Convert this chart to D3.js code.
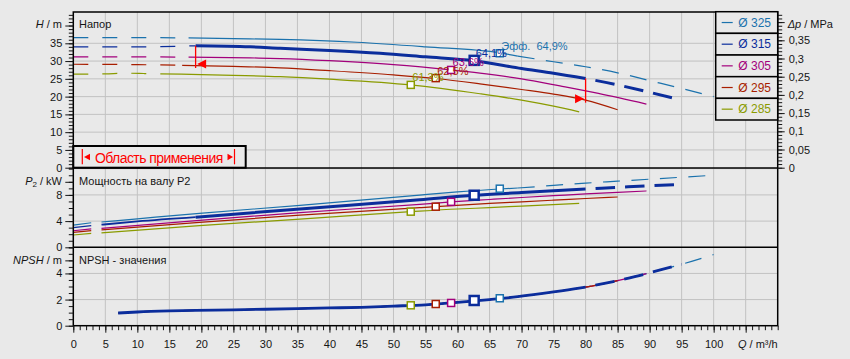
<!DOCTYPE html>
<html><head><meta charset="utf-8">
<script src="https://cdn.jsdelivr.net/npm/d3@7"></script>
<style>
html,body{margin:0;padding:0;background:#e9e9e9;}
svg{display:block;}
text{font-family:"Liberation Sans",Arial,sans-serif;}
</style>
</head><body>
<svg id="c" width="850" height="359"></svg>
<script>
// ---------- data ----------
const diameters = ["Ø 325","Ø 315","Ø 305","Ø 295","Ø 285"];
const colors = ["#1b72ad","#0b2d9c","#a3007c","#a81e00","#8a9b00"];

// Head curves H(Q)
const qH325 = [0,10,18,25,32.3,44.3,55,66.6,69.4,75,80,85,90,95,100];
const hH325 = [36.6,36.6,36.5,36.3,36.1,35.3,34.0,32.3,31.4,29.8,28.4,26.7,24.5,22.3,20.0];
const qH315 = [0,10,19.1,27.6,32.3,40,47.9,55,62.6,70,75,80,85,90,95];
const hH315 = [34.0,34.0,34.3,34.0,33.6,33.0,32.2,31.2,30.1,27.9,26.6,25.1,23.3,21.2,19.0];
const qH305 = [0,10,18,27.6,32.3,40,50,59,63.5,70,76,82,89.5];
const hH305 = [31.2,31.2,31.1,30.9,30.7,30.1,29.0,27.5,26.6,25.0,23.0,20.9,17.9];
const qH295 = [0,10,17,25,32.3,40,50,56.6,63.5,70,75,80,85];
const hH295 = [29.1,29.0,28.8,28.5,28.1,27.3,26.1,25.1,23.6,22.0,20.7,19.0,16.3];
const qH285 = [0,5,8,11,13.6,20,25,32.3,40,52.7,63.5,70,75,79];
const hH285 = [26.3,26.4,26.6,26.5,26.4,26.2,26.0,25.6,24.9,23.3,20.8,19.0,17.3,15.7];

// Shaft power P2(Q)
const qP325 = [0,2.8,4.4,10,19.7,35.4,54.1,60,66.6,69.4,75,80,85,90,95,100];
const pP325 = [3.4,3.75,3.86,4.35,5.19,6.4,7.98,8.45,8.9,9.05,9.45,9.8,10.1,10.4,10.7,11.0];
const qP315 = [0,2.8,4.4,10,19.1,35.4,54.1,62.6,70,80,85,90,95];
const pP315 = [2.99,3.3,3.45,3.95,4.6,5.85,7.25,7.95,8.35,8.9,9.15,9.4,9.6];
const qP305 = [0,2.8,4.4,19.7,35.4,54.1,59,65,70,75,80,85,89.5];
const pP305 = [2.53,2.8,2.9,4.12,5.3,6.56,6.93,7.3,7.6,7.88,8.15,8.4,8.6];
const qP295 = [0,2.8,4.4,19.7,35.4,54.1,56.6,65,70,75,80,85];
const pP295 = [2.29,2.55,2.65,3.82,4.9,6.05,6.2,6.7,6.95,7.2,7.45,7.68];
const qP285 = [0,2.8,4.4,19.7,35.4,52.7,60,65,70,79];
const pP285 = [1.88,2.12,2.2,3.3,4.3,5.44,5.85,6.05,6.3,6.72];

// NPSH(Q), common to all impellers
const qN = [7,10,15,19.1,25,30,35,40,45,50,55,60,65,69.4,75,79,80,85,89.5,90,95,100];
const nN = [0.97,1.05,1.13,1.17,1.21,1.26,1.31,1.36,1.41,1.5,1.6,1.78,2.0,2.22,2.58,2.87,2.95,3.45,3.98,4.05,4.7,5.45];

// curve ranges (Q)
const lowDashEnd = [18,19.1,18,17,13.6];
const solidEnd   = [69.4,80,89.5,85,79];
const curveEnd   = [100,95,89.5,85,79];
const pLowEnd = 2.8, pRestart = 4.4, nStart = 7;

// best-efficiency points
const effQ = [66.6,62.6,59,56.6,52.7];
const effH = [32.2,30.2,27.5,25.2,23.3];
const effP = [8.95,7.95,6.94,6.2,5.44];
const effN = [2.1,1.93,1.74,1.66,1.56];
const effLabel = ["Эфф.  64,9%","64,1%","63,6%","62,5%","61,3%"];

// operating range
const opQ = [19.1,80];
const opTop = [34.3,25.1];
const opBottom = [28.75,19.0];

// ticks
const hTicks = [0,5,10,15,20,25,30,35];
const dpTicks = [0,0.05,0.1,0.15,0.2,0.25,0.3,0.35];
const pTicks = [0,4,8];
const nTicks = [0,2,4];
const qTicks = d3.range(0,106,5);

// ---------- scales ----------
const L = 73.3, R = 777.7, T = 12;
const x = d3.scaleLinear().domain([0,110]).range([L,R]);
const yH = d3.scaleLinear().domain([0,35]).range([167.7,43.3]);
const yDp = d3.scaleLinear().domain([0,0.35]).range([167.7,40.3]);
const yP = d3.scaleLinear().domain([0,12]).range([247.3,168.7]);
const yN = d3.scaleLinear().domain([0,6]).range([325.7,247.3]);

const svg = d3.select("#c");
const GRID = "#c2c2c2";
const TXT = "#151515";

svg.append("rect").attr("width",850).attr("height",359).attr("fill","#e9e9e9");

// grid
const grid = svg.append("g").attr("stroke",GRID).attr("stroke-width",1);
d3.range(5,110,5).forEach(q=>{
  grid.append("line").attr("x1",x(q)).attr("x2",x(q)).attr("y1",T).attr("y2",yN(0));
});
[5,10,15,20,25,30,35].forEach(h=>grid.append("line").attr("x1",L).attr("x2",R).attr("y1",yH(h)).attr("y2",yH(h)));
[4,8,12].forEach(p=>grid.append("line").attr("x1",L).attr("x2",R).attr("y1",yP(p)).attr("y2",yP(p)));
[2,4].forEach(n=>grid.append("line").attr("x1",L).attr("x2",R).attr("y1",yN(n)).attr("y2",yN(n)));

// ---------- curves ----------
const H = [[qH325,hH325],[qH315,hH315],[qH305,hH305],[qH295,hH295],[qH285,hH285]];
const P = [[qP325,pP325],[qP315,pP315],[qP305,pP305],[qP295,pP295],[qP285,pP285]];

function pts(qs,vs,a,b){
  return qs.map((q,i)=>[q,vs[i]]).filter(p=>p[0]>=a-1e-6 && p[0]<=b+1e-6);
}
function drawSeg(g, ys, qs, vs, a, b, col, w, dash, off){
  const ln = d3.line().x(d=>x(d[0])).y(d=>ys(d[1])).curve(d3.curveMonotoneX);
  const p = g.append("path").attr("d", ln(pts(qs,vs,a,b)))
    .attr("fill","none").attr("stroke",col).attr("stroke-width",w);
  if(dash) p.attr("stroke-dasharray",dash);
  if(off) p.attr("stroke-dashoffset",off);
}
const order = [0,2,3,4,1];
const curves = svg.append("g");
const THIN = 1.2, THICK = 3;

order.forEach(i=>{
  const c = colors[i];
  // head
  const [qh,hh] = H[i];
  drawSeg(curves,yH,qh,hh,0,lowDashEnd[i],c,THIN,"15,14");
  if(i===1){
    drawSeg(curves,yH,qh,hh,lowDashEnd[i],solidEnd[i],c,THICK);
    drawSeg(curves,yH,qh,hh,solidEnd[i],curveEnd[i],c,THICK,"19.5,10",19.5);
  } else {
    drawSeg(curves,yH,qh,hh,lowDashEnd[i],solidEnd[i],c,THIN);
    if(curveEnd[i]>solidEnd[i]) drawSeg(curves,yH,qh,hh,solidEnd[i],curveEnd[i],c,THIN,"17,11.5");
  }
  // power
  const [qp,pp] = P[i];
  drawSeg(curves,yP,qp,pp,0,pLowEnd,c,THIN);
  if(i===1){
    drawSeg(curves,yP,qp,pp,pRestart,opQ[0],c,1.8);
    drawSeg(curves,yP,qp,pp,opQ[0],solidEnd[i],c,THICK);
    drawSeg(curves,yP,qp,pp,solidEnd[i],curveEnd[i],c,THICK,"19.5,10",19.5);
  } else {
    drawSeg(curves,yP,qp,pp,pRestart,solidEnd[i],c,THIN);
    if(curveEnd[i]>solidEnd[i]) drawSeg(curves,yP,qp,pp,solidEnd[i],curveEnd[i],c,THIN,"17,11.5");
  }
  // NPSH
  if(i===1){
    drawSeg(curves,yN,qN,nN,nStart,solidEnd[i],c,2.8);
    drawSeg(curves,yN,qN,nN,solidEnd[i],curveEnd[i],c,2.8,"19.5,10",19.5);
  } else {
    drawSeg(curves,yN,qN,nN,nStart,solidEnd[i],c,THIN);
    if(curveEnd[i]>solidEnd[i]) drawSeg(curves,yN,qN,nN,solidEnd[i],curveEnd[i],c,THIN,"17,11.5");
  }
});

// operating range markers
const red = "#ff0000";
opQ.forEach((q,k)=>{
  const xx = x(q);
  svg.append("line").attr("x1",xx).attr("x2",xx)
    .attr("y1",yH(opTop[k])).attr("y2",yH(opBottom[k])+2.5)
    .attr("stroke",red).attr("stroke-width",1.3);
  const yc = yH(opBottom[k])-1.5;
  const dir = k===0 ? 1 : -1;
  svg.append("path")
    .attr("d",`M${xx+dir*1.5},${yc} L${xx+dir*10.5},${yc-4.5} L${xx+dir*10.5},${yc+4.5} Z`)
    .attr("fill",red);
});

// efficiency squares
const marks = svg.append("g");
order.forEach(i=>{
  const s = i===1 ? 9 : 7, sw = i===1 ? 2.5 : 1.5;
  [[yH,effH[i]],[yP,effP[i]],[yN,effN[i]]].forEach(([ys,v])=>{
    marks.append("rect").attr("x",x(effQ[i])-s/2).attr("y",ys(v)-s/2)
      .attr("width",s).attr("height",s).attr("fill","#ffffff")
      .attr("stroke",colors[i]).attr("stroke-width",sw);
  });
});
order.forEach(i=>{
  marks.append("text").attr("x",x(effQ[i])+1.5).attr("y",yH(effH[i])-3.5)
    .attr("font-size",11).attr("fill",colors[i]).style("white-space","pre")
    .text(effLabel[i]);
});

// ---------- frame ----------
const fr = svg.append("g").attr("stroke","#000").attr("stroke-width",1.5).attr("fill","none");
fr.append("rect").attr("x",L).attr("y",T).attr("width",R-L).attr("height",yN(0)-T);
fr.append("line").attr("x1",L).attr("x2",R).attr("y1",167.9).attr("y2",167.9);
fr.append("line").attr("x1",L).attr("x2",R).attr("y1",yP(0)).attr("y2",yP(0));

// ---------- axes ----------
function styleAxis(g){
  g.select(".domain").remove();
  g.attr("font-family",null).attr("font-size",11).attr("color",TXT);
  g.selectAll("text").attr("fill",TXT);
}
const fmtComma = d=> d===0 ? "0" : String(d).replace(".",",");

svg.append("g").attr("transform",`translate(${L},0)`)
  .call(d3.axisLeft(yH).tickValues(d3.range(0,44)).tickSize(4.5).tickFormat(""))
  .call(styleAxis);
svg.append("g").attr("transform",`translate(${L},0)`)
  .call(d3.axisLeft(yH).tickValues(hTicks.concat([40])).tickSize(8).tickPadding(3).tickFormat(d=>d===40?"":d))
  .call(styleAxis);

svg.append("g").attr("transform",`translate(${R},0)`)
  .call(d3.axisRight(yDp).tickValues(d3.range(0,0.43,0.01)).tickSize(4.5).tickFormat(""))
  .call(styleAxis);
svg.append("g").attr("transform",`translate(${R},0)`)
  .call(d3.axisRight(yDp).tickValues(dpTicks.concat([0.4])).tickSize(7).tickPadding(4).tickFormat(d=>d>0.37?"":fmtComma(d)))
  .call(styleAxis);

svg.append("g").attr("transform",`translate(${L},0)`)
  .call(d3.axisLeft(yP).tickValues(d3.range(0,13)).tickSize(4.5).tickFormat(""))
  .call(styleAxis);
svg.append("g").attr("transform",`translate(${L},0)`)
  .call(d3.axisLeft(yP).tickValues(pTicks.concat([10])).tickSize(8).tickPadding(3).tickFormat(d=>d===10?"":d))
  .call(styleAxis);

svg.append("g").attr("transform",`translate(${L},0)`)
  .call(d3.axisLeft(yN).tickValues(d3.range(0,6.01,0.5)).tickSize(4.5).tickFormat(""))
  .call(styleAxis);
svg.append("g").attr("transform",`translate(${L},0)`)
  .call(d3.axisLeft(yN).tickValues(nTicks.concat([5])).tickSize(8).tickPadding(3).tickFormat(d=>d===5?"":d))
  .call(styleAxis);

svg.append("g").attr("transform",`translate(0,${yN(0)})`)
  .call(d3.axisBottom(x).tickValues(d3.range(0,111)).tickSize(4.5).tickFormat(""))
  .call(styleAxis);
svg.append("g").attr("transform",`translate(0,${yN(0)})`)
  .call(d3.axisBottom(x).tickValues(qTicks).tickSize(7).tickPadding(7.5).tickFormat(d=>d>100?"":d))
  .call(styleAxis);

// axis titles
function title(xp, yp, anchor, parts){
  const t = svg.append("text").attr("x",xp).attr("y",yp).attr("text-anchor",anchor)
    .attr("font-size",11).attr("fill",TXT).style("white-space","pre");
  parts.forEach(p=>{
    const s = t.append("tspan").text(p.t);
    if(p.i) s.attr("font-style","italic");
    if(p.sub) s.attr("font-size",8).attr("dy",2);
    if(p.up) s.attr("dy",-2);
  });
}
title(62,28.3,"end",[{t:"H",i:1},{t:" / m"}]);
title(62,185,"end",[{t:"P",i:1},{t:"2",sub:1},{t:" / kW",up:1}]);
title(62,264.3,"end",[{t:"NPSH",i:1},{t:" / m"}]);
title(787.7,28.3,"start",[{t:"Δp",i:1},{t:" / MPa"}]);
title(777.7,348.3,"end",[{t:"Q",i:1},{t:" / m³/h"}]);

// panel titles
[["Напор",28.3],["Мощность на валу P2",185],["NPSH - значения",264.3]].forEach(([s,yy])=>{
  svg.append("text").attr("x",79).attr("y",yy).attr("font-size",11).attr("fill",TXT).text(s);
});

// ---------- legend ----------
const lg = svg.append("g");
const lx0 = 715.7, lx1 = R, ly0 = 11.7, rowH = 21.66;
diameters.forEach((d,i)=>{
  const y0 = ly0 + i*rowH;
  lg.append("rect").attr("x",lx0).attr("y",y0).attr("width",lx1-lx0).attr("height",rowH)
    .attr("fill","#e9e9e9").attr("stroke","#000").attr("stroke-width",1.5);
  lg.append("line").attr("x1",721.7).attr("x2",732.7).attr("y1",y0+rowH/2).attr("y2",y0+rowH/2)
    .attr("stroke",colors[i]).attr("stroke-width",1.2);
  lg.append("text").attr("x",738.3).attr("y",y0+rowH/2+4.3).attr("font-size",12)
    .attr("fill",colors[i]).text(d);
});

// ---------- application range box ----------
const bx = svg.append("g");
bx.append("rect").attr("x",L).attr("y",146).attr("width",245.7-L).attr("height",167.7-146)
  .attr("fill","#e9e9e9").attr("stroke","#000").attr("stroke-width",2);
bx.append("line").attr("x1",82.3).attr("x2",82.3).attr("y1",149).attr("y2",164.3).attr("stroke",red).attr("stroke-width",1.2);
bx.append("path").attr("d","M84,157 L90,153.8 L90,160.2 Z").attr("fill",red);
bx.append("text").attr("x",95).attr("y",162.5).attr("font-size",14).attr("fill",red)
  .attr("textLength",128.3).attr("lengthAdjust","spacing").text("Область применения");
bx.append("path").attr("d","M233,157 L227.5,153.8 L227.5,160.2 Z").attr("fill",red);
bx.append("line").attr("x1",234.5).attr("x2",234.5).attr("y1",149).attr("y2",164.3).attr("stroke",red).attr("stroke-width",1.2);
</script>
</body></html>
